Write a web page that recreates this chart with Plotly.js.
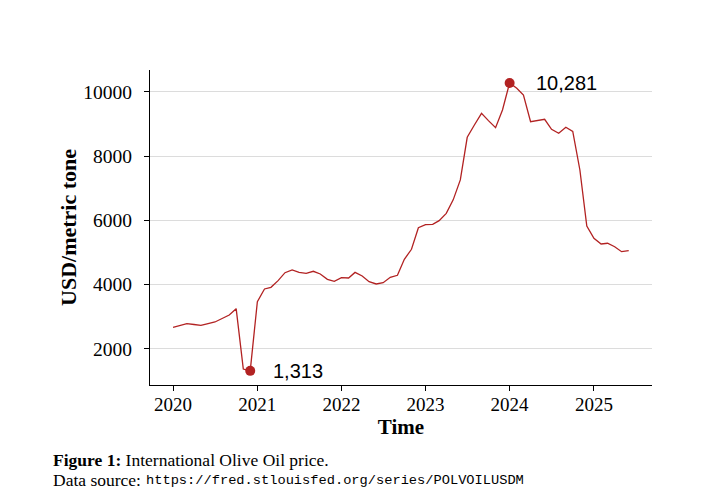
<!DOCTYPE html>
<html>
<head>
<meta charset="utf-8">
<script src="https://cdn.plot.ly/plotly-3.0.1.min.js"></script>
<style>html,body{margin:0;padding:0;background:#fff;}#chart{width:711px;height:504px;}</style>
</head>
<body>
<div id="chart"></div>
<script>
const months = [
 '2020-01-01','2020-02-01','2020-03-01','2020-04-01','2020-05-01','2020-06-01','2020-07-01','2020-08-01','2020-09-01','2020-10-01','2020-11-01','2020-12-01',
 '2021-01-01','2021-02-01','2021-03-01','2021-04-01','2021-05-01','2021-06-01','2021-07-01','2021-08-01','2021-09-01','2021-10-01','2021-11-01','2021-12-01',
 '2022-01-01','2022-02-01','2022-03-01','2022-04-01','2022-05-01','2022-06-01','2022-07-01','2022-08-01','2022-09-01','2022-10-01','2022-11-01','2022-12-01',
 '2023-01-01','2023-02-01','2023-03-01','2023-04-01','2023-05-01','2023-06-01','2023-07-01','2023-08-01','2023-09-01','2023-10-01','2023-11-01','2023-12-01',
 '2024-01-01','2024-02-01','2024-03-01','2024-04-01','2024-05-01','2024-06-01','2024-07-01','2024-08-01','2024-09-01','2024-10-01','2024-11-01','2024-12-01',
 '2025-01-01','2025-02-01','2025-03-01','2025-04-01','2025-05-01','2025-06-01'
];
const price = [
 2670, 2726, 2782, 2757, 2732, 2784, 2835, 2944, 3053, 3249, 1370, 1313,
 3467, 3863, 3915, 4122, 4371, 4455, 4383, 4352, 4414, 4330, 4165, 4103,
 4215, 4205, 4380, 4268, 4090, 4019, 4059, 4227, 4290, 4788, 5100, 5773,
 5866, 5878, 5991, 6220, 6640, 7260, 8589, 8972, 9336, 9107, 8889, 9440,
 10281, 10115, 9907, 9076, 9120, 9150, 8838, 8713, 8900, 8769, 7570, 5826,
 5442, 5265, 5287, 5180, 5025, 5057
];
const extremeDates = ['2020-12-01', '2024-01-01'];
const extremeValues = [1313, 10281];
const extremeLabels = ['1,313', '10,281'];
const yTicks = [2000, 4000, 6000, 8000, 10000];
const xTicks = ['2020-01-01','2021-01-01','2022-01-01','2023-01-01','2024-01-01','2025-01-01'];
const xTickText = ['2020','2021','2022','2023','2024','2025'];

const red = '#b22222';
const serif = '"Liberation Serif", "Times New Roman", serif';
const sans = '"Liberation Sans", Arial, sans-serif';
const mono = '"Liberation Mono", "DejaVu Sans Mono", monospace';

const traces = [
  {x: months, y: price, type: 'scatter', mode: 'lines',
   line: {color: red, width: 1.3}, hoverinfo: 'skip'},
  {x: extremeDates, y: extremeValues, type: 'scatter', mode: 'markers',
   marker: {color: red, size: 10}, hoverinfo: 'skip'}
];

const annotations = extremeDates.map((d, i) => ({
  x: d, y: extremeValues[i], xref: 'x', yref: 'y', text: extremeLabels[i],
  showarrow: false, xanchor: 'left', yanchor: 'middle', xshift: i === 0 ? 21 : 24,
  font: {family: sans, size: 20, color: '#000'}
}));
annotations.push(
  {xref: 'paper', yref: 'paper', x: -0.197, y: -0.238, xanchor: 'left', yanchor: 'middle',
   showarrow: false, text: '<b>Figure 1:</b> International Olive Oil price.',
   font: {family: serif, size: 17.5, color: '#000'}},
  {xref: 'paper', yref: 'paper', x: -0.197, y: -0.302, xanchor: 'left', yanchor: 'middle',
   showarrow: false, text: 'Data source:',
   font: {family: serif, size: 17.5, color: '#000'}},
  {xref: 'paper', yref: 'paper', x: -0.012, y: -0.302, xanchor: 'left', yanchor: 'middle',
   showarrow: false, text: 'https://fred.stlouisfed.org/series/POLVOILUSDM',
   font: {family: mono, size: 13.7, color: '#000'}}
);

const layout = {
  width: 711, height: 504,
  margin: {l: 150, r: 59, t: 70, b: 119},
  paper_bgcolor: '#fff', plot_bgcolor: '#fff',
  showlegend: false,
  xaxis: {
    type: 'date', range: ['2019-09-23', '2025-09-10'],
    tickvals: xTicks, ticktext: xTickText,
    showgrid: false, zeroline: false,
    showline: true, linecolor: '#000', linewidth: 1,
    ticks: 'outside', ticklen: 5, tickcolor: '#000',
    ticklabelstandoff: -3,
    tickfont: {family: serif, size: 19, color: '#000'},
    title: {text: '<b>Time</b>', font: {family: serif, size: 21, color: '#000'}, standoff: 3}
  },
  yaxis: {
    range: [872, 10685],
    tickvals: yTicks, tickformat: 'd',
    showgrid: true, gridcolor: '#dcdcdc', gridwidth: 1, zeroline: false,
    showline: true, linecolor: '#000', linewidth: 1,
    ticks: 'outside', ticklen: 5, tickcolor: '#000',
    ticklabelstandoff: 8,
    tickfont: {family: serif, size: 19.5, color: '#000'},
    title: {text: '<b>USD/metric tone</b>', font: {family: serif, size: 22, color: '#000'}, standoff: 0}
  },
  annotations: annotations
};

Plotly.newPlot('chart', traces, layout, {staticPlot: true, displayModeBar: false});
</script>
</body>
</html>
